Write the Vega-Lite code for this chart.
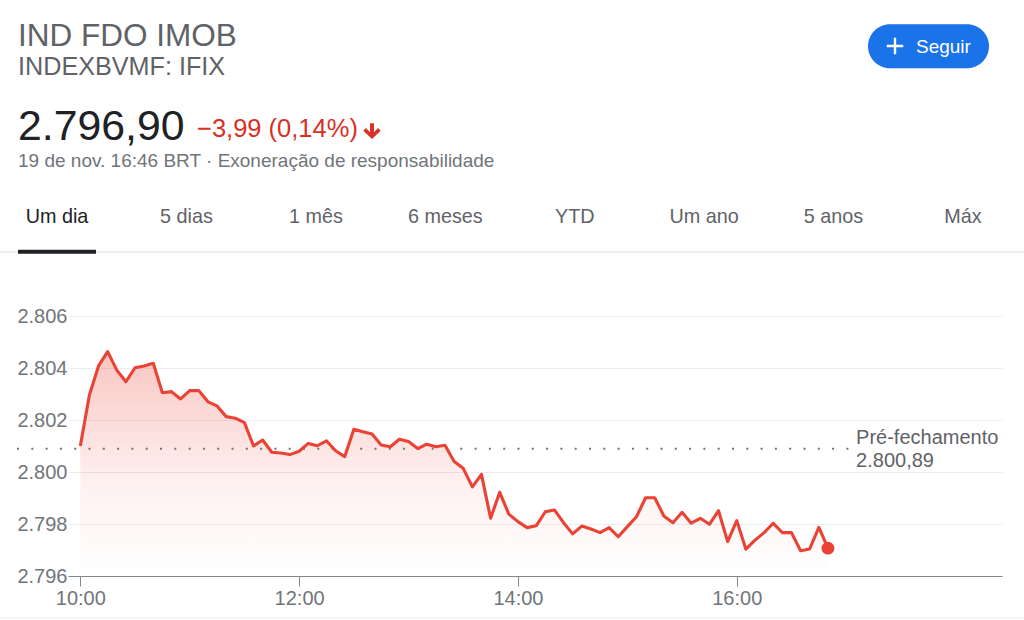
{
  "$schema": "https://vega.github.io/schema/vega-lite/v6.json",
  "width": 934,
  "height": 260,
  "autosize": {"type": "none"},
  "padding": {"left": 68, "top": 316, "right": 22, "bottom": 44},
  "background": "#ffffff",
  "config": {
    "view": {"stroke": null},
    "font": "Arial, Liberation Sans, sans-serif",
    "text": {"font": "Arial, Liberation Sans, sans-serif"}
  },
  "datasets": {
    "prices": [
      {"time": "2020-11-19T10:00:00", "value": 2801.00},
      {"time": "2020-11-19T10:05:00", "value": 2802.96},
      {"time": "2020-11-19T10:10:00", "value": 2804.08},
      {"time": "2020-11-19T10:15:00", "value": 2804.63},
      {"time": "2020-11-19T10:20:00", "value": 2803.92},
      {"time": "2020-11-19T10:25:00", "value": 2803.47},
      {"time": "2020-11-19T10:30:00", "value": 2804.01},
      {"time": "2020-11-19T10:35:00", "value": 2804.08},
      {"time": "2020-11-19T10:40:00", "value": 2804.18},
      {"time": "2020-11-19T10:45:00", "value": 2803.05},
      {"time": "2020-11-19T10:50:00", "value": 2803.09},
      {"time": "2020-11-19T10:55:00", "value": 2802.81},
      {"time": "2020-11-19T11:00:00", "value": 2803.13},
      {"time": "2020-11-19T11:05:00", "value": 2803.13},
      {"time": "2020-11-19T11:10:00", "value": 2802.70},
      {"time": "2020-11-19T11:15:00", "value": 2802.54},
      {"time": "2020-11-19T11:20:00", "value": 2802.13},
      {"time": "2020-11-19T11:25:00", "value": 2802.07},
      {"time": "2020-11-19T11:30:00", "value": 2801.90},
      {"time": "2020-11-19T11:35:00", "value": 2801.00},
      {"time": "2020-11-19T11:40:00", "value": 2801.23},
      {"time": "2020-11-19T11:45:00", "value": 2800.76},
      {"time": "2020-11-19T11:50:00", "value": 2800.73},
      {"time": "2020-11-19T11:55:00", "value": 2800.67},
      {"time": "2020-11-19T12:00:00", "value": 2800.80},
      {"time": "2020-11-19T12:05:00", "value": 2801.10},
      {"time": "2020-11-19T12:10:00", "value": 2801.01},
      {"time": "2020-11-19T12:15:00", "value": 2801.20},
      {"time": "2020-11-19T12:20:00", "value": 2800.82},
      {"time": "2020-11-19T12:25:00", "value": 2800.59},
      {"time": "2020-11-19T12:30:00", "value": 2801.64},
      {"time": "2020-11-19T12:35:00", "value": 2801.55},
      {"time": "2020-11-19T12:40:00", "value": 2801.46},
      {"time": "2020-11-19T12:45:00", "value": 2801.04},
      {"time": "2020-11-19T12:50:00", "value": 2800.97},
      {"time": "2020-11-19T12:55:00", "value": 2801.26},
      {"time": "2020-11-19T13:00:00", "value": 2801.17},
      {"time": "2020-11-19T13:05:00", "value": 2800.90},
      {"time": "2020-11-19T13:10:00", "value": 2801.07},
      {"time": "2020-11-19T13:15:00", "value": 2800.97},
      {"time": "2020-11-19T13:20:00", "value": 2801.03},
      {"time": "2020-11-19T13:25:00", "value": 2800.40},
      {"time": "2020-11-19T13:30:00", "value": 2800.14},
      {"time": "2020-11-19T13:35:00", "value": 2799.43},
      {"time": "2020-11-19T13:40:00", "value": 2799.91},
      {"time": "2020-11-19T13:45:00", "value": 2798.22},
      {"time": "2020-11-19T13:50:00", "value": 2799.22},
      {"time": "2020-11-19T13:55:00", "value": 2798.38},
      {"time": "2020-11-19T14:00:00", "value": 2798.09},
      {"time": "2020-11-19T14:05:00", "value": 2797.86},
      {"time": "2020-11-19T14:10:00", "value": 2797.93},
      {"time": "2020-11-19T14:15:00", "value": 2798.47},
      {"time": "2020-11-19T14:20:00", "value": 2798.54},
      {"time": "2020-11-19T14:25:00", "value": 2798.05},
      {"time": "2020-11-19T14:30:00", "value": 2797.62},
      {"time": "2020-11-19T14:35:00", "value": 2797.92},
      {"time": "2020-11-19T14:40:00", "value": 2797.81},
      {"time": "2020-11-19T14:45:00", "value": 2797.67},
      {"time": "2020-11-19T14:50:00", "value": 2797.86},
      {"time": "2020-11-19T14:55:00", "value": 2797.51},
      {"time": "2020-11-19T15:00:00", "value": 2797.90},
      {"time": "2020-11-19T15:05:00", "value": 2798.28},
      {"time": "2020-11-19T15:10:00", "value": 2799.01},
      {"time": "2020-11-19T15:15:00", "value": 2799.01},
      {"time": "2020-11-19T15:20:00", "value": 2798.31},
      {"time": "2020-11-19T15:25:00", "value": 2798.05},
      {"time": "2020-11-19T15:30:00", "value": 2798.45},
      {"time": "2020-11-19T15:35:00", "value": 2798.03},
      {"time": "2020-11-19T15:40:00", "value": 2798.22},
      {"time": "2020-11-19T15:45:00", "value": 2797.99},
      {"time": "2020-11-19T15:50:00", "value": 2798.51},
      {"time": "2020-11-19T15:55:00", "value": 2797.32},
      {"time": "2020-11-19T16:00:00", "value": 2798.13},
      {"time": "2020-11-19T16:05:00", "value": 2797.03},
      {"time": "2020-11-19T16:10:00", "value": 2797.38},
      {"time": "2020-11-19T16:15:00", "value": 2797.67},
      {"time": "2020-11-19T16:20:00", "value": 2798.03},
      {"time": "2020-11-19T16:25:00", "value": 2797.67},
      {"time": "2020-11-19T16:30:00", "value": 2797.67},
      {"time": "2020-11-19T16:35:00", "value": 2796.97},
      {"time": "2020-11-19T16:40:00", "value": 2797.04},
      {"time": "2020-11-19T16:45:00", "value": 2797.87},
      {"time": "2020-11-19T16:50:00", "value": 2797.07}
    ],
    "tabs": [
      {"tab": "Um dia"},
      {"tab": "5 dias"},
      {"tab": "1 mês"},
      {"tab": "6 meses"},
      {"tab": "YTD"},
      {"tab": "Um ano"},
      {"tab": "5 anos"},
      {"tab": "Máx"}
    ]
  },
  "layer": [
    {
      "data": {"name": "prices"},
      "layer": [
        {
          "mark": {
            "type": "area",
            "fill": {
              "gradient": "linear",
              "x1": 0, "y1": 0, "x2": 0, "y2": 1,
              "stops": [
                {"offset": 0, "color": "rgba(234,67,53,0.3)"},
                {"offset": 0.6, "color": "rgba(234,67,53,0.07)"},
                {"offset": 1, "color": "rgba(234,67,53,0)"}
              ]
            }
          },
          "encoding": {
            "x": {
              "field": "time",
              "type": "temporal",
              "scale": {
                "domain": [
                  {"year": 2020, "month": 11, "date": 19, "hours": 9, "minutes": 53, "seconds": 15},
                  {"year": 2020, "month": 11, "date": 19, "hours": 18, "minutes": 25, "seconds": 27}
                ]
              },
              "axis": {
                "values": [
                  {"year": 2020, "month": 11, "date": 19, "hours": 10},
                  {"year": 2020, "month": 11, "date": 19, "hours": 12},
                  {"year": 2020, "month": 11, "date": 19, "hours": 14},
                  {"year": 2020, "month": 11, "date": 19, "hours": 16}
                ],
                "format": "%H:%M",
                "title": null,
                "grid": false,
                "domainColor": "#80868b",
                "tickColor": "#80868b",
                "tickSize": 10,
                "labelFontSize": 20,
                "labelColor": "#70757a",
                "labelPadding": 2,
                "labelFlush": false,
                "zindex": 1
              }
            },
            "y": {
              "field": "value",
              "type": "quantitative",
              "scale": {"domain": [2796, 2806], "zero": false, "nice": false},
              "axis": {
                "values": [2796, 2798, 2800, 2802, 2804, 2806],
                "labelExpr": "replace(format(datum.value, ','), ',', '.')",
                "title": null,
                "domain": false,
                "ticks": false,
                "grid": true,
                "gridColor": "#ececec",
                "labelFontSize": 20,
                "labelColor": "#70757a",
                "labelPadding": 1
              }
            },
            "y2": {"datum": 2796}
          }
        },
        {
          "data": {"values": [{}]},
          "mark": {"type": "rule", "color": "#70757a", "strokeWidth": 2, "strokeDash": [2, 12.3]},
          "encoding": {
            "x": {"datum": {"year": 2020, "month": 11, "date": 19, "hours": 9, "minutes": 25, "seconds": 17}, "type": "temporal"},
            "x2": {"datum": {"year": 2020, "month": 11, "date": 19, "hours": 17, "minutes": 1, "seconds": 35}},
            "y": {"datum": 2800.89, "type": "quantitative"}
          }
        },
        {
          "mark": {"type": "line", "color": "#ea4335", "strokeWidth": 3.1, "strokeJoin": "round"},
          "encoding": {
            "x": {"field": "time", "type": "temporal"},
            "y": {"field": "value", "type": "quantitative"}
          }
        },
        {
          "transform": [
            {"window": [{"op": "row_number", "as": "rn"}], "sort": [{"field": "time", "order": "descending"}]},
            {"filter": "datum.rn == 1"}
          ],
          "mark": {"type": "point", "filled": true, "color": "#ea4335", "size": 165, "opacity": 1},
          "encoding": {
            "x": {"field": "time", "type": "temporal"},
            "y": {"field": "value", "type": "quantitative"}
          }
        },
        {
          "data": {"values": [{"label": "Pré-fechamento"}]},
          "mark": {"type": "text", "align": "left", "baseline": "middle", "fontSize": 20, "color": "#5f6368", "dy": -11},
          "encoding": {
            "x": {"datum": {"year": 2020, "month": 11, "date": 19, "hours": 17, "minutes": 5, "seconds": 26}, "type": "temporal"},
            "y": {"datum": 2800.89, "type": "quantitative"},
            "text": {"field": "label"}
          }
        },
        {
          "data": {"values": [{"label": "2.800,89"}]},
          "mark": {"type": "text", "align": "left", "baseline": "middle", "fontSize": 20, "color": "#5f6368", "dy": 12},
          "encoding": {
            "x": {"datum": {"year": 2020, "month": 11, "date": 19, "hours": 17, "minutes": 5, "seconds": 26}, "type": "temporal"},
            "y": {"datum": 2800.89, "type": "quantitative"},
            "text": {"field": "label"}
          }
        }
      ]
    },
    {
      "data": {"name": "tabs"},
      "mark": {"type": "text", "baseline": "middle", "align": "center", "fontSize": 19.8, "y": -99},
      "encoding": {
        "x": {"field": "tab", "type": "nominal", "sort": null, "scale": {"type": "point", "range": [-11, 895], "padding": 0}, "axis": null},
        "text": {"field": "tab"},
        "color": {"condition": {"test": "datum.tab === 'Um dia'", "value": "#202124"}, "value": "#5f6368"}
      }
    },
    {
      "data": {"values": [{"label": "IND FDO IMOB"}]},
      "mark": {"type": "text", "align": "left", "baseline": "alphabetic", "fontSize": 31.5, "color": "#5f6368", "x": -50, "y": -270.5},
      "encoding": {"text": {"field": "label"}}
    },
    {
      "data": {"values": [{"label": "INDEXBVMF: IFIX"}]},
      "mark": {"type": "text", "align": "left", "baseline": "alphabetic", "fontSize": 25.2, "color": "#5f6368", "x": -50, "y": -241},
      "encoding": {"text": {"field": "label"}}
    },
    {
      "data": {"values": [{"label": "2.796,90"}]},
      "mark": {"type": "text", "align": "left", "baseline": "alphabetic", "fontSize": 42.8, "color": "#202124", "x": -50, "y": -176},
      "encoding": {"text": {"field": "label"}}
    },
    {
      "data": {"values": [{"label": "−3,99 (0,14%)"}]},
      "mark": {"type": "text", "align": "left", "baseline": "alphabetic", "fontSize": 25.5, "color": "#d93025", "x": 129, "y": -179},
      "encoding": {"text": {"field": "label"}}
    },
    {
      "data": {"values": [{}]},
      "mark": {"type": "point", "filled": true, "opacity": 1, "color": "#d93025", "size": 324, "x": 304, "y": -185,
        "shape": "M0.22 -0.85 L0.22 0.14 L0.68 -0.32 L0.96 -0.04 L0 0.9 L-0.96 -0.04 L-0.68 -0.32 L-0.22 0.14 L-0.22 -0.85 Z"},
      "encoding": {}
    },
    {
      "data": {"values": [{"label": "19 de nov. 16:46 BRT · Exoneração de responsabilidade"}]},
      "mark": {"type": "text", "align": "left", "baseline": "alphabetic", "fontSize": 19, "color": "#70757a", "x": -50, "y": -149},
      "encoding": {"text": {"field": "label"}}
    },
    {
      "data": {"values": [{}]},
      "mark": {"type": "rect", "color": "#1a73e8", "cornerRadius": 22, "x": 800, "x2": 921, "y": -291.7, "y2": -247.7},
      "encoding": {}
    },
    {
      "data": {"values": [{}]},
      "mark": {"type": "point", "filled": false, "opacity": 1, "color": "#ffffff", "strokeWidth": 2.4, "size": 270, "x": 827, "y": -270, "shape": "M-1 0 L1 0 M0 -1 L0 1"},
      "encoding": {}
    },
    {
      "data": {"values": [{"label": "Seguir"}]},
      "mark": {"type": "text", "align": "left", "baseline": "alphabetic", "fontSize": 19, "color": "#ffffff", "x": 848, "y": -263},
      "encoding": {"text": {"field": "label"}}
    },
    {
      "data": {"values": [{}]},
      "mark": {"type": "rule", "color": "#dadce0", "strokeWidth": 1},
      "encoding": {"x": {"value": -68}, "x2": {"value": 956}, "y": {"value": -64}}
    },
    {
      "data": {"values": [{}]},
      "mark": {"type": "rule", "color": "#202124", "strokeWidth": 4},
      "encoding": {"x": {"value": -50}, "x2": {"value": 28}, "y": {"value": -64.3}}
    },
    {
      "data": {"values": [{}]},
      "mark": {"type": "rule", "color": "#e8eaed", "strokeWidth": 1},
      "encoding": {"x": {"value": -68}, "x2": {"value": 956}, "y": {"value": 302}}
    }
  ],
  "resolve": {"scale": {"x": "independent", "y": "independent"}}
}
